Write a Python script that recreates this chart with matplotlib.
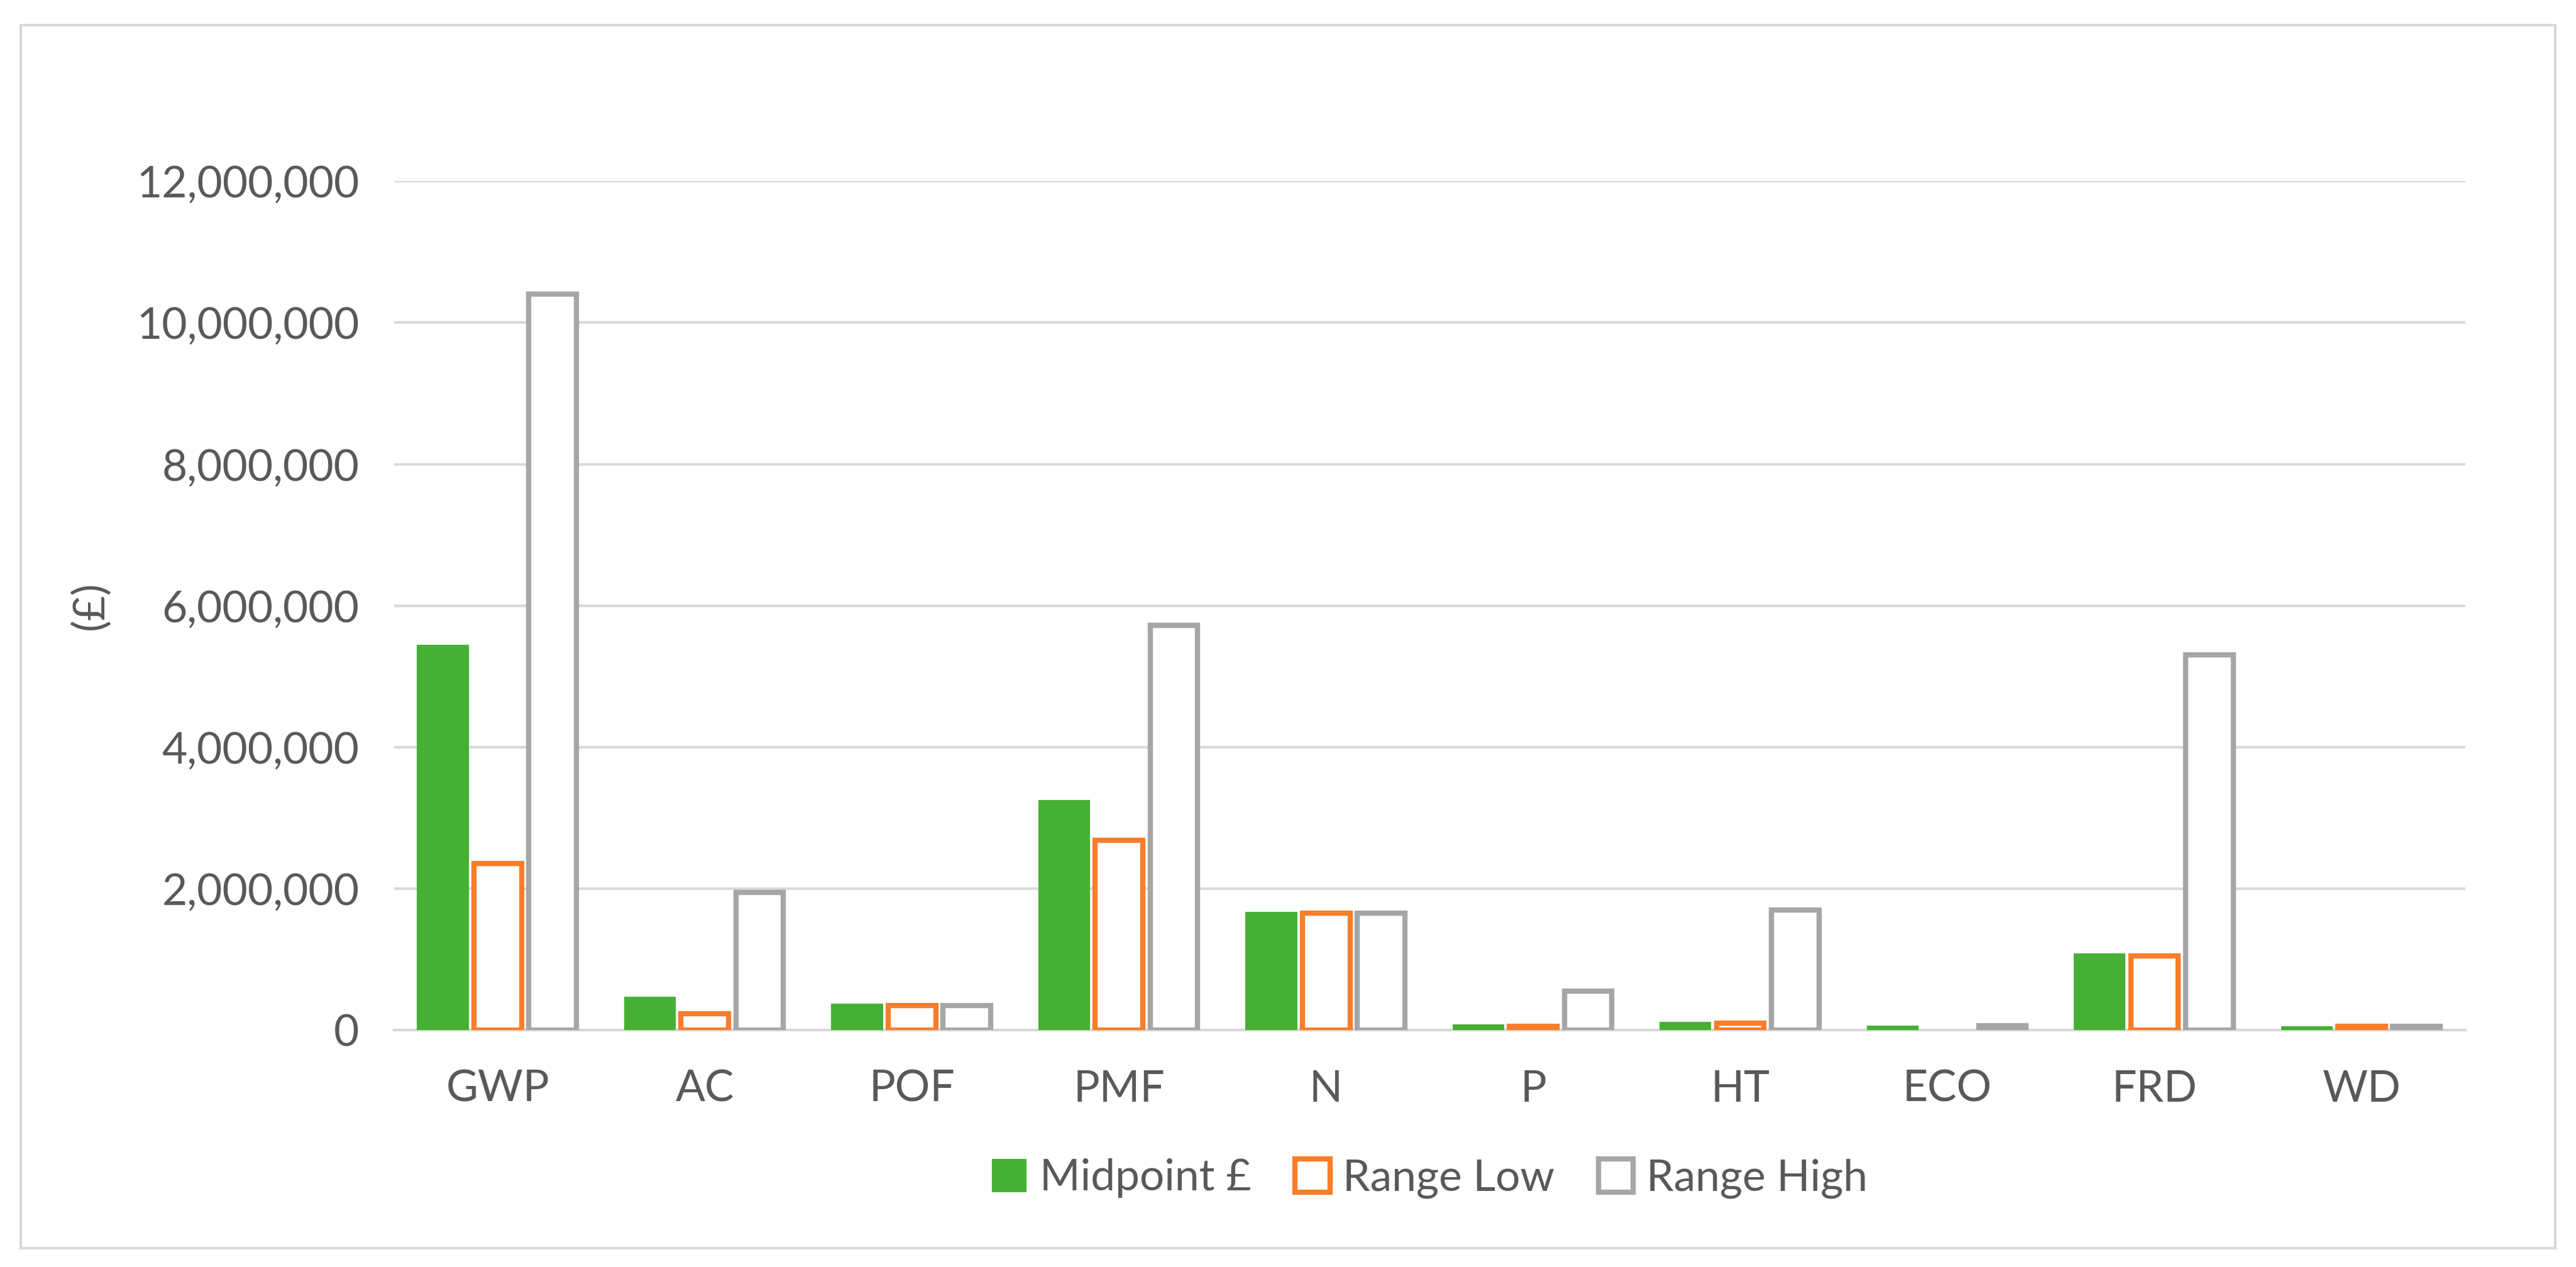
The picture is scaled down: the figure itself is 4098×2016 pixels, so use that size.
import matplotlib.pyplot as plt
import numpy as np
from matplotlib.patches import Rectangle
from matplotlib.ticker import FuncFormatter

categories = ['GWP', 'AC', 'POF', 'PMF', 'N', 'P', 'HT', 'ECO', 'FRD', 'WD']
midpoint = [5450000, 470000, 370000, 3250000, 1670000, 80000, 120000, 60000, 1080000, 55000]
range_low = [2350000, 230000, 350000, 2680000, 1650000, 50000, 100000, 0, 1050000, 50000]
range_high = [10400000, 1950000, 350000, 5720000, 1650000, 550000, 1700000, 60000, 5300000, 50000]

plt.rcParams['font.family'] = ['Lato', 'DejaVu Sans']
green = '#46b035'
orange = '#f97d2a'
gray = '#a6a6a6'
txt = '#595959'

fig = plt.figure(figsize=(40.98, 20.16), dpi=100)
fig.patches.append(Rectangle((0.008, 0.015), 0.984, 0.965, transform=fig.transFigure,
                             fill=False, edgecolor='#d9d9d9', linewidth=3))
ax = fig.add_axes([0.153, 0.187, 0.804, 0.670])

x = np.arange(len(categories))
w = 0.25
lw = 6
ax.bar(x - 0.265, midpoint, w, color=green, label='Midpoint £', zorder=3)
low_bars = ax.bar(x, range_low, w - 0.02, facecolor='white', edgecolor=orange, linewidth=lw,
                  label='Range Low', zorder=3)
for b, v in zip(low_bars, range_low):
    if v == 0:
        b.set_visible(False)
ax.bar(x + 0.265, range_high, w - 0.02, facecolor='white', edgecolor=gray, linewidth=lw,
       label='Range High', zorder=3)

ax.set_xlim(-0.5, len(categories) - 0.5)
ax.set_ylim(0, 12000000)
ax.set_yticks(np.arange(0, 12000001, 2000000))
ax.yaxis.set_major_formatter(FuncFormatter(lambda v, p: f'{int(v):,}'))
ax.set_xticks(x)
ax.set_xticklabels(categories)
ax.grid(axis='y', color='#d9d9d9', linewidth=3, zorder=0)
for s in ['top', 'right', 'left']:
    ax.spines[s].set_visible(False)
ax.spines['bottom'].set_color('#d9d9d9')
ax.spines['bottom'].set_linewidth(3)
ax.tick_params(length=0, labelsize=50, colors=txt, pad=40)
ax.tick_params(axis='x', pad=45)
ax.set_ylabel('(£)', fontsize=50, color=txt, labelpad=30)

ax.legend(loc='upper center', bbox_to_anchor=(0.5, -0.105), ncol=3, frameon=False,
          fontsize=50, labelcolor=txt, handlelength=0.8, handleheight=0.8,
          handletextpad=0.3, columnspacing=1.0)

fig.savefig('out.png', dpi=100)
